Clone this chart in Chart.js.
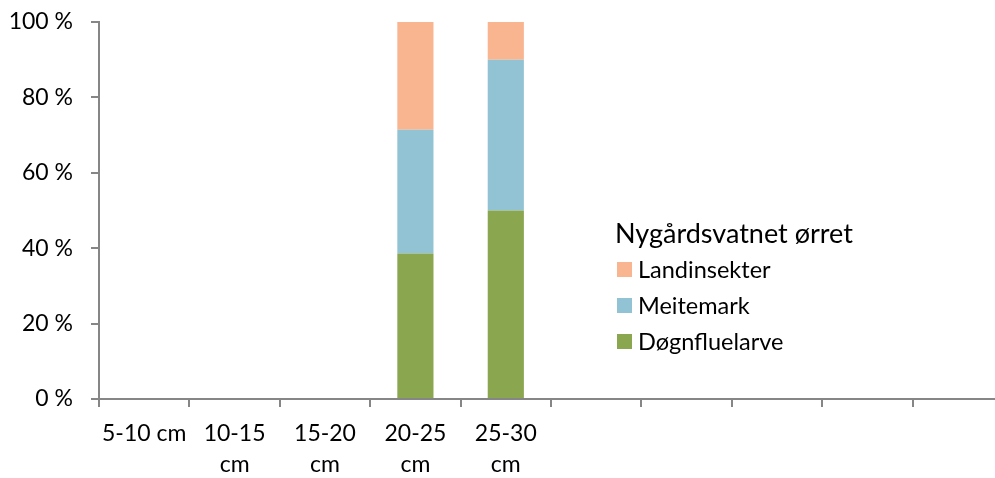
<!DOCTYPE html>
<html>
<head>
<meta charset="utf-8">
<script src="https://cdn.jsdelivr.net/npm/chart.js@4"></script>
<style>
    html, body { margin: 0; padding: 0; background: #fff; overflow: hidden; }
    #wrap { position: relative; width: 1010px; height: 478px; }
    #legend { position: absolute; left: 615px; top: 218px; font-family: Lato, sans-serif; color: #000; }
    #legend .title { font-size: 27px; line-height: 30px; margin-bottom: 3px; }
    #legend .item { display: flex; align-items: center; font-size: 23.5px; height: 36px; }
    #legend .box { width: 15px; height: 15px; margin: 0 6px 0 2px; }
</style>
</head>
<body>
<div id="wrap">
    <canvas id="chart" width="1010" height="478"></canvas>
    <div id="legend"></div>
</div>
<script>
// ═══════════════ DATA ═══════════════

const legendTitle = 'Nygårdsvatnet ørret';
const categories = ['5-10 cm', ['10-15', 'cm'], ['15-20', 'cm'], ['20-25', 'cm'], ['25-30', 'cm'], '', '', '', '', ''];
const dognfluelarve = [null, null, null, 38.6, 50, null, null, null, null, null];
const meitemark = [null, null, null, 32.8, 40, null, null, null, null, null];
const landinsekter = [null, null, null, 28.6, 10, null, null, null, null, null];
const yTicks = [0, 20, 40, 60, 80, 100];

const axisColor = '#868686';
const fontFamily = 'Lato, sans-serif';

// ═══════════════ CHART ═══════════════

const datasets = [
    { label: 'Døgnfluelarve', data: dognfluelarve, backgroundColor: '#8AA64F' },
    { label: 'Meitemark', data: meitemark, backgroundColor: '#92C3D4' },
    { label: 'Landinsekter', data: landinsekter, backgroundColor: '#F9B590' }
].map(ds => Object.assign(ds, { barPercentage: 0.4, categoryPercentage: 1.0 }));

new Chart(document.getElementById('chart').getContext('2d'), {
    type: 'bar',
    data: { labels: categories, datasets },
    options: {
        responsive: false,
        animation: false,
        layout: { padding: { top: 22, right: 7, left: 0, bottom: 0 } },
        plugins: { legend: { display: false }, tooltip: { enabled: false } },
        scales: {
            x: {
                stacked: true,
                offset: true,
                grid: { offset: true, drawOnChartArea: false, color: axisColor, tickLength: 8, lineWidth: 2 },
                border: { color: axisColor, width: 2 },
                ticks: { color: '#000', font: { family: fontFamily, size: 23, lineHeight: 31 / 23 }, padding: 11, maxRotation: 0, autoSkip: false },
                afterFit: scale => { scale.height = 79; }
            },
            y: {
                stacked: true,
                min: 0,
                max: 100,
                afterBuildTicks: scale => { scale.ticks = yTicks.map(v => ({ value: v })); },
                grid: { drawOnChartArea: false, color: axisColor, tickLength: 8, lineWidth: 2 },
                border: { color: axisColor, width: 2 },
                ticks: { color: '#000', font: { family: fontFamily, size: 23 }, padding: 18, callback: v => v + ' %' },
                afterFit: scale => {
                    scale.width = 99;
                    scale.paddingTop = 0;
                    scale.paddingBottom = 0;
                }
            }
        }
    }
});

// ═══════════════ LEGEND ═══════════════

const legendEl = document.getElementById('legend');
legendEl.innerHTML = '<div class="title">' + legendTitle + '</div>' +
    datasets.slice().reverse().map(ds =>
        '<div class="item"><span class="box" style="background:' + ds.backgroundColor + '"></span>' + ds.label + '</div>'
    ).join('');
</script>
</body>
</html>
